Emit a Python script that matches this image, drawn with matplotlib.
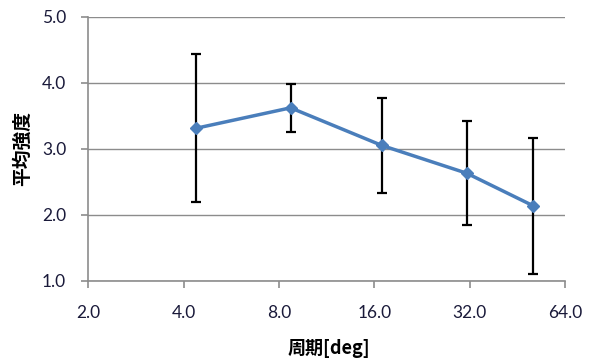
import matplotlib
matplotlib.use("Agg")
import matplotlib.pyplot as plt
from matplotlib.ticker import FixedLocator, NullLocator

plt.rcParams['font.family'] = ['Lato', 'Noto Sans CJK JP', 'DejaVu Sans']

# period [deg] and mean intensity with its spread
period = [4.37, 8.7, 16.9, 31.3, 50.6]
mean_val = [3.31, 3.62, 3.05, 2.63, 2.14]
err = [1.12, 0.36, 0.72, 0.79, 1.03]

xticks = [2, 4, 8, 16, 32, 64]
yticks = [1, 2, 3, 4, 5]

fig = plt.figure(figsize=(5.93, 3.62), dpi=100)
ax = fig.add_axes([0.149, 0.224, 0.804, 0.73])

ax.set_xscale('log', base=2)
ax.set_xlim(2, 64)
ax.set_ylim(1, 5)
ax.xaxis.set_major_locator(FixedLocator(xticks))
ax.xaxis.set_minor_locator(NullLocator())
ax.set_xticklabels(['%.1f' % t for t in xticks])
ax.set_yticks(yticks)
ax.set_yticklabels(['%.1f' % t for t in yticks])

ax.grid(axis='y', color='#8c8c8c', lw=1.0)
ax.set_axisbelow(True)

ax.errorbar(period, mean_val, yerr=err, fmt='none', ecolor='black',
            elinewidth=1.6, capsize=3.5, capthick=1.6, zorder=2)
ax.plot(period, mean_val, '-', color='#4a7ebb', lw=2.5, marker='D',
        ms=6, mec='#4a7ebb', mfc='#4a7ebb', zorder=3)

for s in ['top', 'right']:
    ax.spines[s].set_visible(False)
for s in ['left', 'bottom']:
    ax.spines[s].set_color('#8c8c8c')
    ax.spines[s].set_linewidth(1.2)

ax.tick_params(axis='x', direction='out', length=5, width=1.2, color='#8c8c8c',
               pad=12.5, labelsize=12.5, labelcolor='#1a1a3a')
ax.tick_params(axis='y', direction='out', length=5, width=1.2, color='#8c8c8c',
               pad=11, labelsize=12.5, labelcolor='#1a1a3a')

jp = ['Noto Sans CJK JP', 'DejaVu Sans']
ax.set_xlabel('周期[deg]', fontsize=13, fontweight='bold', family=jp, va='center')
ax.set_ylabel('平均強度', fontsize=13.5, fontweight='bold', family=jp, va='center')
ax.xaxis.set_label_coords(0.505, -0.254)
ax.yaxis.set_label_coords(-0.139, 0.5)

fig.savefig('out.png', dpi=100)
